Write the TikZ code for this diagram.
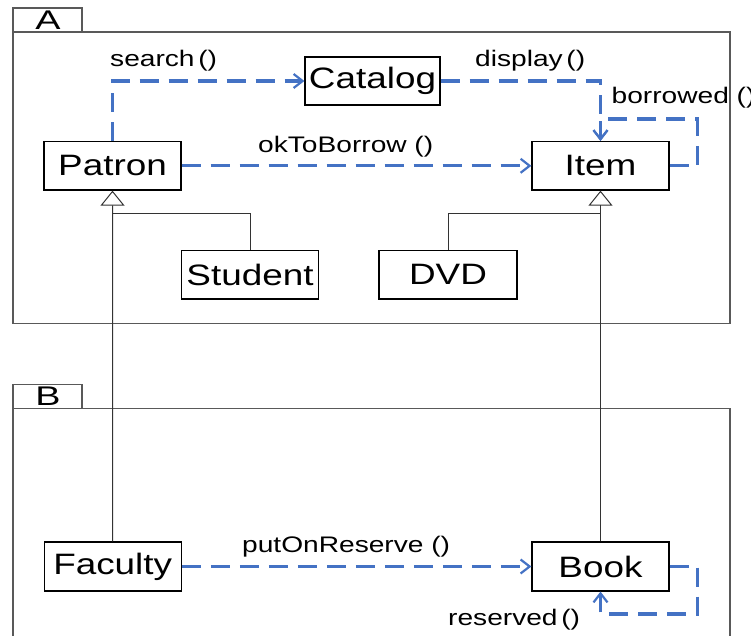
\documentclass[tikz,border=0pt]{standalone}
\usepackage{fontspec}
\setmainfont{Liberation Sans}
\newfontfamily\clsfam[FakeStretch=1.25]{Liberation Sans}
\newfontfamily\pkgfam[FakeStretch=1.4]{Liberation Sans}
\newcommand\clsfont{\clsfam\fontsize{29.5}{31}\selectfont}
\newcommand\lblfont{\clsfam\fontsize{22.5}{24}\selectfont}
\newcommand\pkgfont{\pkgfam\fontsize{27}{28}\selectfont}
\usetikzlibrary{arrows.meta}
\definecolor{depblue}{HTML}{4472C4}
\definecolor{pkgline}{HTML}{595959}
\begin{document}
\begin{tikzpicture}[x=1pt,y=-1pt,
  cls/.style={draw=black, line width=1.2pt, minimum width=137pt, minimum height=48.5pt, inner sep=0pt, font=\clsfont},
  pkgbox/.style={draw=pkgline, line width=1.4pt},
  lbl/.style={font=\lblfont, inner sep=0pt, anchor=base west},
  pkglbl/.style={font=\pkgfont, inner sep=0pt, anchor=base},
  dep/.style={draw=depblue, line width=3.4pt, dash pattern=on 19pt off 10pt,
    -{Straight Barb[length=9pt,width=14pt,line width=2.2pt]}},
  gen/.style={draw=black!80, line width=1pt},
  genhead/.style={gen, -{Triangle[open, length=15pt, width=24pt, line width=1pt]}}]
\useasboundingbox (0,0) rectangle (751,636);

% packages
\draw[pkgbox] (13,32) rectangle (730,323.5);
\draw[pkgbox] (13,8) rectangle (82,32);
\node[pkglbl] (pkgA) at (48,29.3) {A};
\draw[pkgbox] (13,408.5) rectangle (730,660);
\draw[pkgbox] (13,384.5) rectangle (82,408.5);
\node[pkglbl] (pkgB) at (48,405) {B};

% classes
\node[cls, minimum width=135pt, minimum height=48pt] (catalog) at (372.5,81) {Catalog};
\node[cls] (patron)  at (112.5,165.8) {Patron};
\node[cls] (item)    at (600.5,165.8) {Item};
\node[cls] (student) at (250,274.8) {Student};
\node[cls, minimum width=138pt] (dvd) at (448,274.8) {DVD};
\node[cls, minimum height=49pt] (faculty) at (112.7,566.5) {Faculty};
\node[cls, minimum height=49pt] (book)    at (600.5,566.5) {Book};

% generalisations
\coordinate (pj) at (112.5,213.3);
\coordinate (ij) at (600.5,213.3);
\draw[genhead] (faculty.north) -- (patron.south);
\draw[gen] (student.north) |- (pj);
\draw[genhead] (book.north) -- (item.south);
\draw[gen] (dvd.north) |- (ij);

% messages
\draw[dep] (patron.north) |- (catalog.west);
\node[lbl] (lsearch) at (110,67) {search\,()};
\draw[dep] (catalog.east) -| (item.north);
\node[lbl] (ldisplay) at (475,66.7) {display\,()};
\draw[dep] (patron.east) -- (item.west);
\node[lbl] (lok) at (258,153) {okToBorrow ()};
\coordinate (bloop) at (697.5,119);
\draw[dep] (item.east) -| (bloop) -| (item.north);
\node[lbl] (lborrowed) at (611.5,103.3) {borrowed ()};

\draw[dep] (faculty.east) -- (book.west);
\node[lbl] (lreserve) at (242,552.7) {putOnReserve ()};
\coordinate (rloop) at (697.5,614);
\draw[dep] (book.east) -| (rloop) -| (book.south);
\node[lbl] (lreserved) at (448,625) {reserved\,()};
\end{tikzpicture}
\end{document}
